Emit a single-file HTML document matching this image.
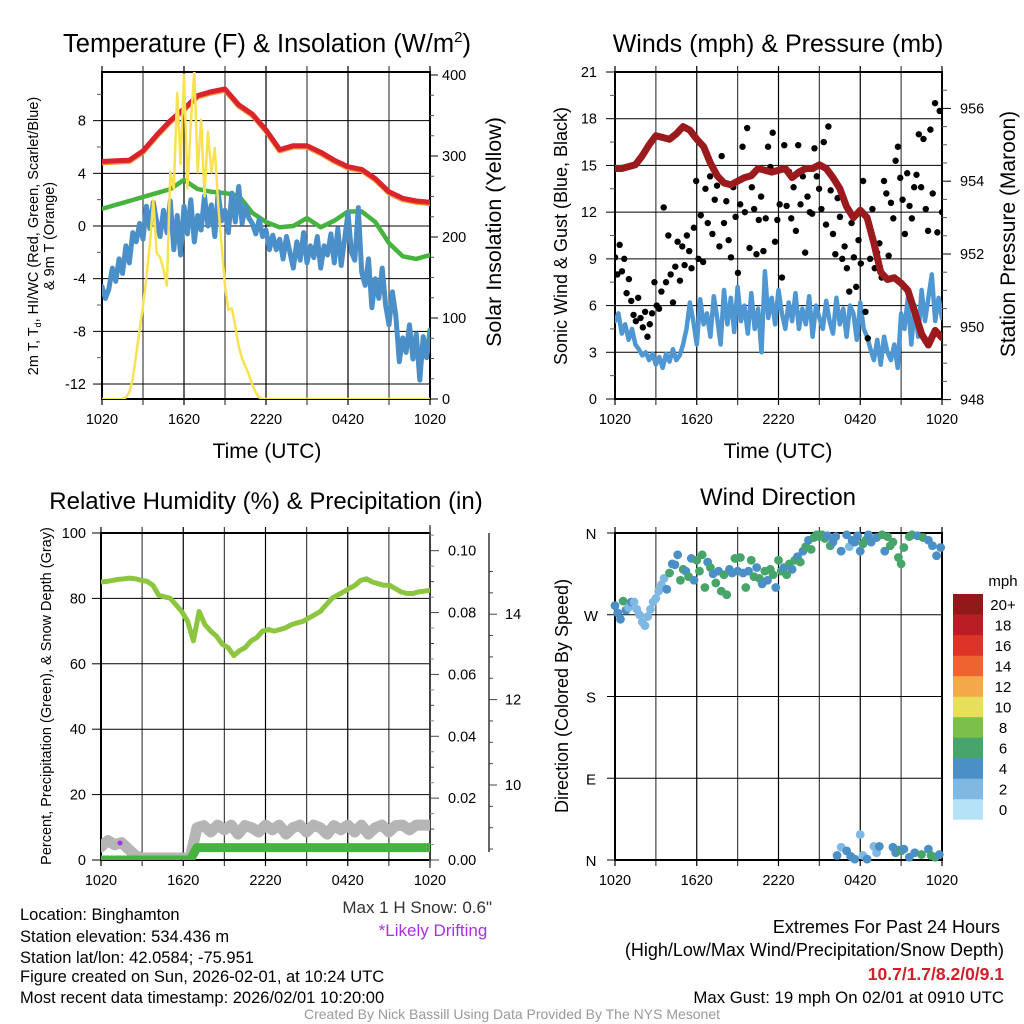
<!DOCTYPE html>
<html><head><meta charset="utf-8"><style>
body{margin:0;background:#fff;}
svg{display:block;font-family:"Liberation Sans",sans-serif;}
</style></head><body>
<svg id="fig" width="1024" height="1024" viewBox="0 0 1024 1024" xmlns="http://www.w3.org/2000/svg">
<defs>
<clipPath id="c1"><rect x="102" y="72" width="328" height="327"/></clipPath>
<clipPath id="c2"><rect x="615" y="72" width="327" height="327"/></clipPath>
<clipPath id="c3"><rect x="101" y="533" width="329" height="327"/></clipPath>
<clipPath id="c4"><rect x="608" y="526" width="342" height="342"/></clipPath>
</defs>
<g font-size="25.5" text-anchor="middle" fill="#000">
<text x="267" y="52">Temperature (F) &amp; Insolation (W/m<tspan dy="-10" font-size="15">2</tspan><tspan dy="10">)</tspan></text>
<text x="778" y="52" font-size="25">Winds (mph) &amp; Pressure (mb)</text>
<text x="266" y="509" font-size="24">Relative Humidity (%) &amp; Precipitation (in)</text>
<text x="778" y="505" font-size="24">Wind Direction</text>
</g>
<g font-size="21" text-anchor="middle">
<text x="267" y="458">Time (UTC)</text>
<text x="778" y="458">Time (UTC)</text>
<text transform="translate(501,232) rotate(-90)" font-size="21.5">Solar Insolation (Yellow)</text>
<text transform="translate(567,236) rotate(-90)" font-size="18">Sonic Wind &amp; Gust (Blue, Black)</text>
<text transform="translate(1015,234) rotate(-90)">Station Pressure (Maroon)</text>
<text transform="translate(568,696) rotate(-90)" font-size="18">Direction (Colored By Speed)</text>
</g>
<g font-size="14.5" text-anchor="middle">
<text transform="translate(38,236) rotate(-90)">2m T, T<tspan font-size="9" dy="3">d</tspan><tspan dy="-3">, HI/WC (Red, Green, Scarlet/Blue)</tspan></text>
<text transform="translate(54,236) rotate(-90)">&amp; 9m T (Orange)</text>
<text transform="translate(51,696) rotate(-90)">Percent, Precipitation (Green), &amp; Snow Depth (Gray)</text>
</g>
<g font-size="16.5">
<text x="20" y="920">Location: Binghamton</text>
<text x="20" y="942">Station elevation: 534.436 m</text>
<text x="20" y="963">Station lat/lon: 42.0584; -75.951</text>
<text x="20" y="982">Figure created on Sun, 2026-02-01, at 10:24 UTC</text>
<text x="20" y="1003">Most recent data timestamp: 2026/02/01 10:20:00</text>
<text x="492" y="913" font-size="17" text-anchor="end" fill="#333">Max 1 H Snow: 0.6"</text>
<text x="433" y="936" font-size="17" text-anchor="middle" fill="#a632e6">*Likely Drifting</text>
<text x="1000" y="933" font-size="18" text-anchor="end">Extremes For Past 24 Hours</text>
<text x="1004" y="956" font-size="18" text-anchor="end">(High/Low/Max Wind/Precipitation/Snow Depth)</text>
<text x="1004" y="980" font-size="17.5" text-anchor="end" fill="#d0202a" font-weight="bold">10.7/1.7/8.2/0/9.1</text>
<text x="1004" y="1003" font-size="16.8" text-anchor="end">Max Gust: 19 mph On 02/01 at 0910 UTC</text>
</g>
<text x="512" y="1019" font-size="14" text-anchor="middle" fill="#999">Created By Nick Bassill Using Data Provided By The NYS Mesonet</text>
<text x="1003" y="586" font-size="15" text-anchor="middle">mph</text>
<g id="root"></g>
</svg>
<script>
// ---------- data ----------
const timeLabels = ["1020","1620","2220","0420","1020"];
const tempT = [4.9,4.95,5.0,5.7,6.9,8.0,8.9,9.9,10.2,10.4,9.2,8.5,7.3,5.8,6.1,6.1,5.6,5.0,4.5,4.3,3.6,2.6,2.1,1.9,1.8];
const temp9m = [4.8,4.85,4.9,5.6,6.8,7.9,8.8,9.8,10.1,10.3,9.1,8.4,7.2,5.7,6.0,6.0,5.5,4.9,4.4,4.2,3.5,2.5,2.0,1.8,1.7];
const windChill = [1.3,1.6,1.9,2.2,2.5,2.8,3.5,2.8,2.6,2.5,2.3,1.0,0.3,-0.1,0.0,0.6,-0.1,0.4,1.1,1.1,0.3,-1.3,-2.3,-2.5,-2.2];
const dewPoint = [-4.6,-5.5,-4.8,-3.2,-4.2,-2.5,-3.6,-1.5,-2.8,-0.5,-1.2,0.2,-1.0,1.5,-0.2,1.8,0.3,-0.8,1.2,-0.5,1.9,-1.8,0.8,-2.2,1.5,-0.6,2.0,-1.2,0.8,-0.3,2.3,0.0,1.6,-0.8,2.6,0.4,1.2,-0.5,2.5,0.3,3.0,0.2,1.5,0.6,0.2,-0.6,0.5,-0.8,-0.3,-1.8,-0.7,-1.8,-1.0,-2.5,-0.8,-2.0,-3.2,-1.2,-2.6,-0.5,-2.8,-1.5,-2.4,-0.8,-3.2,-1.5,-2.2,-0.6,-2.8,-0.2,-3.0,-1.0,1.0,-2.0,-2.6,1.4,-3.5,-4.5,-2.5,-6.2,-4.0,-5.5,-3.2,-6.0,-7.5,-5.0,-6.8,-10.3,-8.5,-9.6,-7.5,-10.1,-8.2,-11.7,-8.4,-10.0,-7.9];
const solar = [0,0,0,0,0,0,0,2,8,25,55,85,115,150,190,245,180,175,160,140,280,260,378,290,400,260,340,405,280,345,250,330,280,310,240,190,140,110,112,90,65,50,40,30,18,8,2,0,0,0,0,0,0,0,0,0,0,0,0,0,0,0,0,0,0,0,0,0,0,0,0,0,0,0,0,0,0,0,0,0,0,0,0,0,0,0,0,0,0,0,0,0,0,0,0,0,0];
const pressure = [954.35,954.35,954.4,954.45,954.7,955.0,955.25,955.2,955.15,955.3,955.5,955.4,955.15,954.95,954.5,954.15,953.95,953.9,954.0,954.1,954.15,954.35,954.3,954.25,954.3,954.35,954.1,954.25,954.35,954.35,954.45,954.35,954.1,953.8,953.3,953.0,953.2,953.0,952.3,951.5,951.3,951.35,951.2,951.0,950.4,949.8,949.5,949.9,949.7];
const windSpeed = [5.0,5.5,4.2,4.8,3.8,4.5,3.5,3.2,2.8,3.0,2.5,2.9,2.2,2.7,2.0,2.9,2.4,3.2,2.5,2.8,3.5,4.5,6.2,5.0,3.5,6.4,4.8,5.5,4.0,6.6,5.2,3.5,7.0,4.8,6.5,4.3,7.2,5.0,6.0,4.2,6.8,4.5,5.8,3.0,8.2,5.2,6.5,4.8,7.0,5.5,4.5,6.2,5.0,6.8,4.5,5.8,4.8,6.6,4.0,6.0,5.2,4.5,6.3,5.0,4.2,6.5,4.8,5.8,4.0,6.0,5.5,3.8,6.2,4.5,4.0,3.2,2.5,3.8,2.2,4.0,3.0,2.5,3.5,2.0,5.5,4.5,6.5,3.5,6.0,4.0,7.0,5.0,6.5,8.0,5.0,6.5,5.2];
const gusts = [9.1,8.0,9.9,8.2,9.0,6.8,7.7,6.3,5.4,5.0,6.5,5.2,4.6,5.6,4.0,4.8,5.5,7.5,6.0,5.8,6.9,12.3,7.5,10.5,8.0,6.2,8.5,10.1,7.6,9.8,8.6,10.5,9.5,8.4,11.0,14.0,9.0,11.8,8.8,13.5,11.3,14.3,10.6,12.8,13.7,9.8,15.6,11.3,12.7,10.2,9.1,13.6,11.7,8.1,12.5,16.2,12.0,17.4,9.7,13.6,12.2,9.3,11.5,13.0,9.5,11.6,16.2,14.9,17.1,10.1,11.5,12.5,7.8,16.3,12.4,14.6,11.6,13.6,10.8,16.3,12.5,14.3,9.4,13.0,12.0,11.9,16.1,14.3,13.5,12.2,16.5,11.2,17.5,13.4,10.6,9.3,12.9,11.7,9.0,9.8,8.4,6.9,11.3,9.1,7.2,10.2,8.7,14.0,5.6,3.9,9.0,12.2,8.4,9.4,10.0,7.8,14.0,13.2,9.2,12.6,11.6,15.3,16.2,14.2,12.8,10.6,14.5,12.4,11.6,13.6,14.4,17.0,13.6,16.7,12.2,10.8,17.3,13.2,19.0,10.7,18.5,12.0];
const rh = [85,85.2,85.5,85.8,86,86.2,86,85.5,85.2,84,81,80.5,80,78,76,73,67,76,72,70,68.5,66,65,62.5,64,65,67,68,70,70.5,70,70.5,71,72,72.5,73,74,75,76,78,80,81,82,83,84,85.5,86,85,84.5,84,84,83,82,81.5,81.5,82,82.2,82.5];
const precip = [0,0,0,0,0,0,0,0,0,0,0,0,0,0,0.004,0.004,0.004,0.004,0.004,0.004,0.004,0.004,0.004,0.004,0.004,0.004,0.004,0.004,0.004,0.004,0.004,0.004,0.004,0.004,0.004,0.004,0.004,0.004,0.004,0.004,0.004,0.004,0.004,0.004,0.004,0.004,0.004,0.004,0.004];
const snowDepth = [8.55,8.7,8.6,8.65,8.5,8.35,8.29,8.29,8.29,8.29,8.29,8.29,8.29,8.29,9.0,9.05,8.9,9.06,8.95,9.06,8.85,9.05,9.0,8.9,9.06,8.95,9.06,8.85,9.0,9.06,8.9,9.06,9.0,8.85,9.05,8.95,9.06,8.9,9.06,8.85,9.0,9.06,8.9,9.05,9.06,8.95,9.06,9.06,9.06];
const dirTimes = [0,0.2,0.4,0.6,0.8,1.0,1.2,1.4,1.6,1.8,2.0,2.2,2.4,2.6,2.8,3.0,3.2,3.4,3.6,3.8,4.0,4.2,4.4,4.6,4.8,5.0,5.2,5.4,5.6,5.8,6.0,6.2,6.4,6.6,6.8,7.0,7.2,7.4,7.6,7.8,8.0,8.2,8.4,8.6,8.8,9.0,9.2,9.4,9.6,9.8,10.0,10.2,10.4,10.6,10.8,11.0,11.2,11.4,11.6,11.8,12.0,12.2,12.4,12.6,12.8,13.0,13.2,13.4,13.6,13.8,14.0,14.2,14.4,14.6,14.8,15.0,15.2,15.4,15.6,15.8,16.0,16.2,16.6,17.0,17.2,17.4,17.6,17.8,18.0,18.2,18.4,18.6,18.8,19.2,19.6,19.8,20.0,20.2,20.4,20.8,21.0,21.2,21.6,21.8,22.2,22.6,23.0,23.3,23.6,23.9,16.3,16.6,17.0,17.3,17.6,18.0,18.2,18.5,19.0,19.2,19.4,20.4,20.6,20.8,21.0,21.2,21.6,22.0,22.5,23.0,23.2,23.5,23.8];
const dirDeg = [280,272,265,285,275,278,284,284,276,270,262,258,268,276,284,288,296,303,310,298,316,326,325,336,308,320,318,312,332,308,330,318,336,300,328,322,315,305,318,296,314,292,320,316,332,318,333,316,300,318,330,312,322,310,304,318,308,320,314,300,330,318,322,314,326,320,330,334,328,340,345,352,342,355,358,356,358,354,357,346,350,356,340,358,345,352,350,357,340,348,352,358,350,355,358,340,356,346,350,333,326,344,356,358,357,355,352,346,335,344,5,14,10,4,1,28,5,1,15,8,15,14,8,11,10,12,3,8,6,12,5,3,6];
const dirSpeed = [4,4,4,7,4,3,4,3,3,2,2,2,2,2,2,2,2,2,2,4,6,5,4,4,6,6,4,7,4,4,6,6,6,6,4,6,5,6,4,6,6,6,4,4,6,4,7,4,6,4,6,6,4,6,4,6,4,6,6,4,6,6,4,6,6,4,6,4,6,4,6,4,6,6,6,6,7,6,4,6,4,4,4,4,2,4,4,4,4,6,6,4,4,4,6,4,6,7,6,6,6,6,6,7,4,6,4,4,4,4,4,2,4,4,4,2,2,4,2,2,4,4,4,4,6,4,4,4,6,4,6,6,4];
const speedBins = ["0","2","4","6","8","10","12","14","16","18","20+"];
const binColors = ["#b5e2f7","#7fb9e3","#4a8fc6","#47a56c","#7cbf4a","#e7df59","#f5a847","#ee6330","#dc3428","#bb1d25","#93181a"];

// ---------- helpers ----------
const NS="http://www.w3.org/2000/svg";
const root=document.getElementById('root');
function mk(tag,attrs,parent){const e=document.createElementNS(NS,tag);for(const k in attrs)e.setAttribute(k,attrs[k]);(parent||root).appendChild(e);return e;}
function pathD(xs,ys){return xs.map((x,i)=>(i?'L':'M')+x.toFixed(1)+','+ys[i].toFixed(1)).join('');}
function series(arr,xf,yf,stroke,w,clip,name){
  const n=arr.length;const xs=arr.map((v,i)=>xf(i*24/(n-1)));const ys=arr.map(v=>yf(v));
  const p=mk('path',{d:pathD(xs,ys),fill:'none',stroke:stroke,'stroke-width':w,'stroke-linejoin':'round','stroke-linecap':'round','clip-path':'url(#'+clip+')'});
  
  
  return p;
}
function txt(x,y,s,anchor,size){const t=mk('text',{x:x,y:y,'text-anchor':anchor||'middle','font-size':size||14.5});t.textContent=s;return t;}

function panelGrid(L,R,T,B,hVals,yf,prefix){
  const g=mk('g',{});
  
  
  for(let k=0;k<=8;k++){const x=L+k*(R-L)/8;
    const v=mk('line',{x1:x,y1:T-6,x2:x,y2:B+6,stroke:k%2?'#444':'#000','stroke-width':1.2},g);
    
    }
  hVals.forEach(h=>{const y=yf(h);
    const l=mk('line',{x1:L,y1:y,x2:R,y2:y,stroke:'#000','stroke-width':1},g);
    
    });
  const fr=mk('rect',{x:L,y:T,width:R-L,height:B-T,fill:'none',stroke:'#000','stroke-width':2},g);
  
  
  for(let k=0;k<timeLabels.length;k++){
    const t=txt(L+k*(R-L)/4,B+25,timeLabels[k]);
    
    }
}

// Panel 1
const x1=t=>102+t*328/24, y1=v=>226-v*13.17, ys=v=>399-v*0.81;
panelGrid(102,430,72,399,[-12,-8,-4,0,4,8],y1,'p1');
[-12,-8,-4,0,4,8].forEach(v=>{const t=txt(86,y1(v)+5,String(v),'end');
  
  
  mk('line',{x1:93,y1:y1(v),x2:102,y2:y1(v),stroke:'#000'});});
[-10,-6,-2,2,6,10].forEach(v=>{mk('line',{x1:97,y1:y1(v),x2:102,y2:y1(v),stroke:'#555'});});
[0,100,200,300,400].forEach(v=>{const t=txt(442,ys(v)+5,String(v),'start');
  
  
  mk('line',{x1:430,y1:ys(v),x2:438,y2:ys(v),stroke:'#000'});});
for(let v=25;v<400;v+=25){if(v%100)mk('line',{x1:430,y1:ys(v),x2:434,y2:ys(v),stroke:'#555'});}
series(temp9m,x1,y1,'#f7923a',5,'c1','temp-9m-line');
series(tempT,x1,y1,'#d8242a',5,'c1','temp-2m-line');
series(windChill,x1,y1,'#45b33e',4.5,'c1','windchill-line');
series(dewPoint,x1,y1,'#4a8fc8',5,'c1','dewpoint-line');
series(solar,x1,ys,'#f8e253',2.5,'c1','solar-line');

// Panel 2
const x2=t=>615+t*327/24, y2=v=>399-v*327/21, yp=p=>399.6-(p-948)*36.4;
panelGrid(615,942,72,399,[3,6,9,12,15,18],y2,'p2');
for(let v=0;v<=21;v+=3){const t=txt(597,y2(v)+5,String(v),'end');
  
  
  mk('line',{x1:606,y1:y2(v),x2:615,y2:y2(v),stroke:'#000'});
  if(v<21)mk('line',{x1:610,y1:y2(v+1.5),x2:615,y2:y2(v+1.5),stroke:'#555'});}
for(let p=948;p<=956;p+=2){const t=txt(960,yp(p)+5,String(p),'start');
  
  
  mk('line',{x1:942,y1:yp(p),x2:951,y2:yp(p),stroke:'#000'});}
for(let p=948.5;p<957;p+=0.5){if(p%2)mk('line',{x1:942,y1:yp(p),x2:947,y2:yp(p),stroke:'#555'});}
series(windSpeed,x2,y2,'#4f97d2',4.5,'c2','wind-speed-line');
gusts.forEach((g,i)=>{const c=mk('circle',{cx:x2(i*24/(gusts.length-1)),cy:y2(g),r:3.2,fill:'#000','clip-path':'url(#c2)'});
  
  });
series(pressure,x2,yp,'#9b1a1d',7,'c2','pressure-line');

// Panel 3
const x3=t=>101+t*329/24, yr=v=>860-v*3.27, ypr=v=>860-v*3093, ysd=v=>785-(v-10)*42.7;
panelGrid(101,430,533,860,[20,40,60,80],yr,'p3');
for(let v=0;v<=100;v+=20){const t=txt(86,yr(v)+5,String(v),'end');
  
  
  mk('line',{x1:92,y1:yr(v),x2:101,y2:yr(v),stroke:'#000'});}
mk('line',{x1:430,y1:525,x2:430,y2:868,stroke:'#555','stroke-width':1.5});
for(let k=0;k<=10;k++){const v=k*0.01;const y=ypr(v);
  mk('line',{x1:430,y1:y,x2:k%2?434:439,y2:y,stroke:'#444'});
  if(k%2===0){const t=txt(448,y+5,v.toFixed(2),'start');
    
    }}
for(let k=0;k<=10;k++){mk('line',{x1:430,y1:ypr(k*0.01+0.005),x2:434,y2:ypr(k*0.01+0.005),stroke:'#888'});}
const sdAx=mk('line',{x1:489,y1:533,x2:489,y2:852,stroke:'#333','stroke-width':1.5});


for(let v=8.5;v<=15.1;v+=0.5){const y=ysd(v);if(y<533||y>853)continue;
  const major=Math.abs(v%2)<0.01;
  mk('line',{x1:489,y1:y,x2:major?497:493,y2:y,stroke:'#444'});
  if(major){const t=txt(505,y+5,String(v),'start');
    
    }}
series(snowDepth,x3,ysd,'#b5b5b5',11,'c3','snow-depth-line');
series(precip,x3,ypr,'#45b33e',9,'c3','precip-line');
series(rh,x3,yr,'#8cc63f',5,'c3','rh-line');
const dr=mk('circle',{cx:120,cy:843,r:2.5,fill:'#a632e6'});



// Panel 4
const yd=d=>860-d*327/360;
panelGrid(615,942,533,860,[90,180,270],yd,'p4');
[["N",360],["W",270],["S",180],["E",90],["N",0]].forEach(a=>{const t=txt(591,yd(a[1])+6,a[0],'middle',15);
  
  
  mk('line',{x1:607,y1:yd(a[1]),x2:615,y2:yd(a[1]),stroke:'#000'});});
dirTimes.forEach((t,i)=>{const b=Math.min(10,Math.floor(dirSpeed[i]/2));
  const c=mk('circle',{cx:x2(t),cy:yd(dirDeg[i]),r:4.4,fill:binColors[b],'clip-path':'url(#c4)'});
  
  });
speedBins.forEach((s,i)=>{const y=594+(10-i)*20.5;
  const r=mk('rect',{x:953,y:y,width:30,height:20.7,fill:binColors[i]});
  
  
  const t=txt(1003,y+16,s,'middle',15);
  
  });
</script>
</body></html>
